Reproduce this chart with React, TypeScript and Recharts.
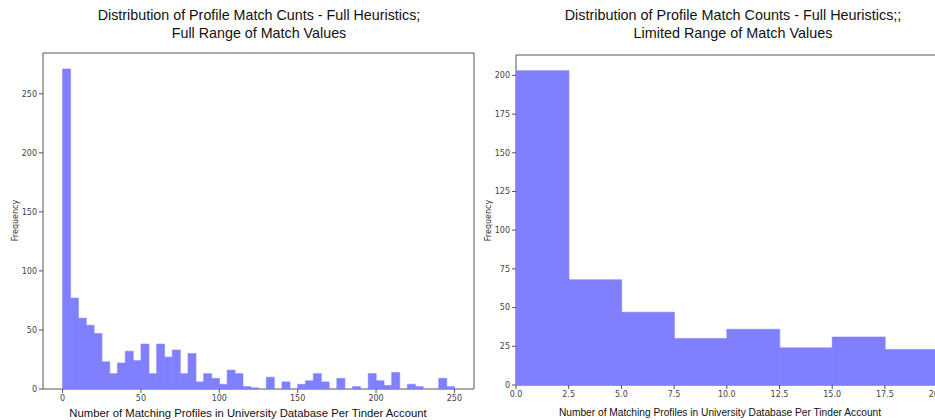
import { ComposedChart, Bar, XAxis, YAxis, ReferenceArea } from 'recharts';

// full range: 50 bins of width 5
const fullBinStarts = [
    0, 5, 10, 15, 20, 25, 30, 35, 40, 45, 50, 55, 60, 65, 70, 75, 80, 85, 90, 95,
    100, 105, 110, 115, 120, 125, 130, 135, 140, 145, 150, 155, 160, 165, 170, 175, 180, 185, 190, 195,
    200, 205, 210, 215, 220, 225, 230, 235, 240, 245,
];
const fullCounts = [
    271, 77, 60, 54, 47, 23, 13, 22, 32, 24, 38, 13, 38, 27, 33, 13, 30, 6, 13, 9,
    4, 16, 13, 2, 1, 0, 10, 0, 6, 0, 4, 7, 13, 6, 0, 9, 0, 2, 0, 13,
    7, 3, 14, 0, 4, 2, 0, 0, 9, 2,
];
const fullXTicks = [0, 50, 100, 150, 200, 250];
const fullYTicks = [0, 50, 100, 150, 200, 250];

// limited range: 8 bins of width 2.5
const limitedBinStarts = [0, 2.5, 5, 7.5, 10, 12.5, 15, 17.5];
const limitedCounts = [203, 68, 47, 30, 36, 24, 31, 23];
const limitedXTicks = [0, 2.5, 5, 7.5, 10, 12.5, 15, 17.5, 20];
const limitedYTicks = [0, 25, 50, 75, 100, 125, 150, 175, 200];

const BAR = '#8080ff';
const SPINE = '#555';
const tickStyle = { fill: '#444', fontSize: 8, fontFamily: 'DejaVu Sans' };
const textFont = 'Liberation Sans, Arial, sans-serif';

const fullData = fullBinStarts.map((b, i) => ({ bin: b, count: fullCounts[i] }));
const limitedData = limitedBinStarts.map((b, i) => ({ bin: b, count: limitedCounts[i] }));

function Title({ lines, center, size }: { lines: string[]; center: number; size: number }) {
    return (
        <div
            style={{
                position: 'absolute',
                left: center - 250,
                width: 500,
                top: 6,
                textAlign: 'center',
                fontFamily: textFont,
                fontSize: size,
                lineHeight: '18px',
                color: '#111',
            }}
        >
            {lines.map((l) => (
                <div key={l}>{l}</div>
            ))}
        </div>
    );
}

function XLabel({ text, center, top, size }: { text: string; center: number; top: number; size: number }) {
    return (
        <div
            style={{
                position: 'absolute',
                left: center - 250,
                width: 500,
                top,
                textAlign: 'center',
                fontFamily: textFont,
                fontSize: size,
                lineHeight: '14px',
                color: '#111',
                whiteSpace: 'nowrap',
            }}
        >
            {text}
        </div>
    );
}

function YLabel({ x, y }: { x: number; y: number }) {
    return (
        <div
            style={{
                position: 'absolute',
                left: x - 30,
                top: y - 6,
                width: 60,
                textAlign: 'center',
                fontFamily: 'DejaVu Sans',
                fontSize: 8,
                color: '#333',
                transform: 'rotate(-90deg)',
            }}
        >
            Frequency
        </div>
    );
}

export default function App() {
    return (
        <div
            style={{
                position: 'fixed',
                left: 0,
                top: 0,
                width: 935,
                height: 420,
                overflow: 'hidden',
                background: '#fff',
            }}
        >
            {/* left: full range */}
            <div style={{ position: 'absolute', left: 0, top: 0 }}>
                <ComposedChart
                    width={480}
                    height={420}
                    data={fullData}
                    barCategoryGap={0}
                    barGap={0}
                    margin={{ top: 53, right: 6, bottom: 0, left: 0 }}
                >
                    <XAxis xAxisId="bins" dataKey="bin" hide height={0} padding={{ left: 19.6, right: 19.6 }} />
                    <XAxis
                        xAxisId="num"
                        dataKey="bin"
                        type="number"
                        domain={[-12.5, 262.5]}
                        allowDataOverflow
                        ticks={fullXTicks}
                        height={31}
                        axisLine={false}
                        tickSize={4}
                        tickLine={{ stroke: SPINE }}
                        tick={tickStyle}
                    />
                    <YAxis
                        domain={[0, 284.55]}
                        ticks={fullYTicks}
                        width={43}
                        axisLine={false}
                        tickSize={4}
                        tickLine={{ stroke: SPINE }}
                        tick={tickStyle}
                    />
                    <Bar
                        xAxisId="bins"
                        dataKey="count"
                        fill={BAR}
                        stroke={BAR}
                        strokeWidth={0.6}
                        isAnimationActive={false}
                    />
                    <ReferenceArea
                        xAxisId="num"
                        x1={-12.5}
                        x2={262.5}
                        y1={0}
                        y2={284.55}
                        fill="none"
                        stroke={SPINE}
                        strokeWidth={1}
                    />
                </ComposedChart>
            </div>

            {/* right: limited range */}
            <div style={{ position: 'absolute', left: 480, top: 0 }}>
                <ComposedChart
                    width={470}
                    height={420}
                    data={limitedData}
                    barCategoryGap={0}
                    barGap={0}
                    margin={{ top: 55, right: 12.4, bottom: 0, left: 0 }}
                >
                    <XAxis xAxisId="bins" dataKey="bin" hide height={0} />
                    <XAxis
                        xAxisId="num"
                        dataKey="bin"
                        type="number"
                        domain={[0, 20]}
                        allowDataOverflow
                        ticks={limitedXTicks}
                        tickFormatter={(v: number) => v.toFixed(1)}
                        height={35}
                        axisLine={false}
                        tickSize={4}
                        tickLine={{ stroke: SPINE }}
                        tick={tickStyle}
                    />
                    <YAxis
                        domain={[0, 213.15]}
                        ticks={limitedYTicks}
                        width={36}
                        axisLine={false}
                        tickSize={4}
                        tickLine={{ stroke: SPINE }}
                        tick={tickStyle}
                    />
                    <Bar
                        xAxisId="bins"
                        dataKey="count"
                        fill={BAR}
                        stroke={BAR}
                        strokeWidth={0.6}
                        isAnimationActive={false}
                    />
                    <ReferenceArea
                        xAxisId="num"
                        x1={0}
                        x2={20}
                        y1={0}
                        y2={213.15}
                        fill="none"
                        stroke={SPINE}
                        strokeWidth={1}
                    />
                </ComposedChart>
            </div>

            <Title
                lines={['Distribution of Profile Match Cunts - Full Heuristics;', 'Full Range of Match Values']}
                center={259}
                size={14.3}
            />
            <Title
                lines={['Distribution of Profile Match Counts - Full Heuristics;;', 'Limited Range of Match Values']}
                center={733}
                size={14.4}
            />
            <XLabel
                text="Number of Matching Profiles in University Database Per Tinder Account"
                center={248}
                top={406}
                size={11.3}
            />
            <XLabel
                text="Number of Matching Profiles in University Database Per Tinder Account"
                center={720}
                top={406}
                size={10.2}
            />
            <YLabel x={15} y={222} />
            <YLabel x={488} y={222} />
        </div>
    );
}
